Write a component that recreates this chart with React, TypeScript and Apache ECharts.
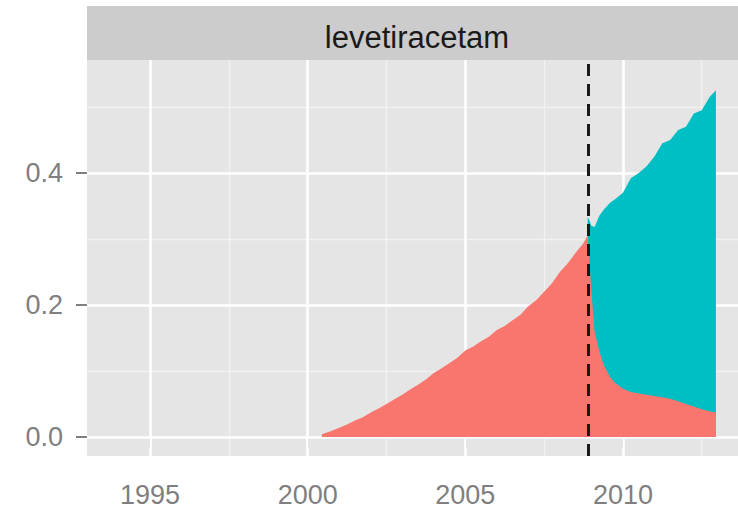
import React, { useEffect, useRef } from "react";
import * as echarts from "echarts";

// Time points (decimal years)
const years = [
  2000.45, 2000.75, 2001, 2001.25, 2001.5, 2001.75, 2002, 2002.25, 2002.5, 2002.75,
  2003, 2003.25, 2003.5, 2003.75, 2004, 2004.25, 2004.5, 2004.75, 2005, 2005.25,
  2005.5, 2005.75, 2006, 2006.25, 2006.5, 2006.75, 2007, 2007.25, 2007.5, 2007.75,
  2008, 2008.25, 2008.5, 2008.75, 2008.88, 2008.92, 2009.0, 2009.1, 2009.25, 2009.4,
  2009.6, 2009.75, 2010, 2010.25, 2010.5, 2010.75, 2011, 2011.25, 2011.5, 2011.75,
  2012, 2012.25, 2012.5, 2012.75, 2012.95,
];

// Share of the first (red) group
const redShare = [
  0.004, 0.009, 0.014, 0.019, 0.025, 0.03, 0.037, 0.043, 0.05, 0.057,
  0.064, 0.072, 0.079, 0.087, 0.097, 0.104, 0.112, 0.12, 0.131, 0.137,
  0.145, 0.152, 0.162, 0.168, 0.177, 0.185, 0.198, 0.207, 0.22, 0.233,
  0.25, 0.263, 0.279, 0.294, 0.305, 0.28, 0.22, 0.16, 0.13, 0.108,
  0.09, 0.082, 0.073, 0.068, 0.066, 0.064, 0.062, 0.06, 0.058, 0.054,
  0.05, 0.046, 0.042, 0.039, 0.037,
];

// Share of the second (teal) group, stacked on top of red
const tealShare: (number | null)[] = [
  null, null, null, null, null, null, null, null, null, null,
  null, null, null, null, null, null, null, null, null, null,
  null, null, null, null, null, null, null, null, null, null,
  null, null, null, null, 0.028, 0.05, 0.1, 0.158, 0.205, 0.237,
  0.265, 0.278, 0.297, 0.324, 0.334, 0.346, 0.363, 0.385, 0.392, 0.411,
  0.42, 0.444, 0.453, 0.476, 0.488,
];

const switchYear = 2008.89;
const facetTitle = "levetiracetam";
const xTicks = [1995, 2000, 2005, 2010];
const xMinor = [1997.5, 2002.5, 2007.5, 2012.5];
const yTicks = [0, 0.2, 0.4];
const yMinor = [0.1, 0.3, 0.5];

const FONT = "'Liberation Sans', Arial, sans-serif";

export default function App() {
  const ref = useRef<HTMLDivElement>(null);
  useEffect(() => {
    const chart = echarts.init(ref.current!, null, { renderer: "svg" });
    const redData = years.map((x, i) => [x, redShare[i]]);
    const tealData = years
      .map((x, i) => (tealShare[i] == null ? null : [x, redShare[i] + (tealShare[i] as number)]))
      .filter((d) => d !== null);

    const major = { color: "#ffffff", width: 2.6, type: "solid" };
    const minor = { color: "#f2f2f2", width: 1.3, type: "solid" };
    const gridLines = [
      ...xMinor.map((v) => ({ xAxis: v, lineStyle: minor })),
      ...yMinor.map((v) => ({ yAxis: v, lineStyle: minor })),
      ...xTicks.map((v) => ({ xAxis: v, lineStyle: major })),
      ...yTicks.map((v) => ({ yAxis: v, lineStyle: major })),
    ];

    chart.setOption({
      animation: false,
      backgroundColor: "#ffffff",
      textStyle: { fontFamily: FONT },
      grid: {
        left: 87,
        top: 60,
        right: 0,
        bottom: 58,
        show: true,
        backgroundColor: "#e5e5e5",
        borderWidth: 0,
      },
      xAxis: {
        type: "value",
        min: 1993.0,
        max: 2013.65,
        axisLine: { show: false },
        splitLine: { show: false },
        axisTick: {
          show: true,
          customValues: xTicks,
          length: 11,
          lineStyle: { color: "#7f7f7f", width: 2 },
        },
        axisLabel: {
          customValues: xTicks,
          fontSize: 27,
          color: "#7f7f7f",
          margin: 25,
          fontFamily: FONT,
          formatter: (v: number) => String(v),
        },
      },
      yAxis: {
        type: "value",
        min: -0.0288,
        max: 0.571,
        axisLine: { show: false },
        splitLine: { show: false },
        axisTick: {
          show: true,
          customValues: yTicks,
          length: 11,
          lineStyle: { color: "#7f7f7f", width: 2 },
        },
        axisLabel: {
          customValues: yTicks,
          fontSize: 27,
          color: "#7f7f7f",
          margin: 24,
          fontFamily: FONT,
          formatter: (v: number) => v.toFixed(1),
        },
      },
      graphic: [
        {
          type: "rect",
          shape: { x: 87, y: 6, width: 651, height: 54 },
          style: { fill: "#cccccc" },
        },
        {
          type: "text",
          x: 417,
          y: 37,
          style: {
            text: facetTitle,
            fontSize: 31,
            fontFamily: FONT,
            fill: "#1a1a1a",
            align: "center",
            verticalAlign: "middle",
          },
        },
      ],
      series: [
        {
          type: "line",
          data: [],
          silent: true,
          z: 1,
          markLine: {
            silent: true,
            z: 1,
            symbol: ["none", "none"],
            label: { show: false },
            data: gridLines,
          },
        },
        {
          name: "teal",
          type: "line",
          data: tealData,
          showSymbol: false,
          z: 3,
          lineStyle: { width: 0 },
          areaStyle: { color: "#00BFC4", opacity: 1 },
          itemStyle: { color: "#00BFC4" },
        },
        {
          name: "red",
          type: "line",
          data: redData,
          showSymbol: false,
          z: 4,
          lineStyle: { width: 0 },
          areaStyle: { color: "#F8766D", opacity: 1 },
          itemStyle: { color: "#F8766D" },
          markLine: {
            silent: true,
            z: 6,
            symbol: ["none", "none"],
            label: { show: false },
            data: [
              {
                xAxis: switchYear,
                lineStyle: { color: "#1a1a1a", width: 3, type: [12, 8] },
              },
            ],
          },
        },
      ],
    });
    return () => chart.dispose();
  }, []);
  return (
    <div
      ref={ref}
      style={{ position: "absolute", left: 0, top: 0, width: 738, height: 514 }}
    />
  );
}
